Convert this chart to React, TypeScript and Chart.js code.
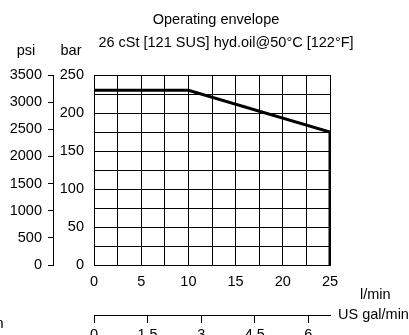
import React, { useEffect, useRef } from "react";
import { Chart, registerables } from "chart.js";

Chart.register(...registerables);

// ---- data ----
const flowLpm = [0, 10, 25, 25];
const pressureBar = [230, 230, 175, 0];

// ---- axes ----
const lpmRange = [0, 25];
const barRange = [0, 250];
const psiRange = [0, 3500];
const galRange = [0, 25 / 3.785411784];
const lpmGridStep = 2.5;
const lpmLabelStep = 5;
const barGridStep = 25;
const barLabelStep = 50;
const psiStep = 500;
const galStep = 1.5;

// ---- text ----
const titleText = "Operating envelope";
const subtitleText = "26 cSt [121 SUS] hyd.oil@50°C [122°F]";
const psiLabel = "psi";
const barLabel = "bar";
const lpmLabel = "l/min";
const galLabel = "US gal/min";
const cutLabel = "n";

const FONT = "'Liberation Sans', Arial, Helvetica, sans-serif";
const FS = 14.5;

const annotPlugin = {
  id: "annot",
  afterDraw(chart: any) {
    const ctx = chart.ctx;
    const ca = chart.chartArea;
    const sx = chart.scales.x;
    const sg = chart.scales.gal;
    const sy = chart.scales.y;
    const sp = chart.scales.psi;
    ctx.save();
    ctx.fillStyle = "#000";
    ctx.font = `${FS}px ${FONT}`;
    ctx.textAlign = "center";
    ctx.textBaseline = "alphabetic";
    ctx.fillText(titleText, ca.left + 122, 24);
    ctx.fillText(subtitleText, ca.left + 132, 47);
    ctx.fillText(psiLabel, sp.left + 26, 55);
    ctx.fillText(barLabel, sy.left + 18, 55);
    ctx.textAlign = "left";
    ctx.textBaseline = "middle";
    ctx.fillText(lpmLabel, ca.right + 30, sx.top + 30);
    ctx.fillText(galLabel, ca.right + 8, sg.top);
    ctx.textAlign = "right";
    ctx.textBaseline = "alphabetic";
    ctx.fillText(cutLabel, 3.5, 328);
    ctx.restore();
  },
};

export default function App() {
  const ref = useRef<HTMLCanvasElement>(null);
  useEffect(() => {
    document.body.style.margin = "0";
    Chart.defaults.font.family = FONT;
    Chart.defaults.font.size = FS;
    Chart.defaults.color = "#000";
    const chart = new Chart(ref.current as HTMLCanvasElement, {
      type: "line",
      data: {
        datasets: [
          {
            data: flowLpm.map((x, i) => ({ x, y: pressureBar[i] })),
            borderColor: "#000",
            borderWidth: 3,
            pointRadius: 0,
            fill: false,
            tension: 0,
            xAxisID: "x",
            yAxisID: "y",
          },
        ],
      },
      options: {
        responsive: false,
        animation: false,
        events: [],
        layout: { padding: { top: 75, right: 79, bottom: 0, left: 0 } },
        plugins: { legend: { display: false }, tooltip: { enabled: false } },
        scales: {
          x: {
            type: "linear",
            position: "bottom",
            min: lpmRange[0],
            max: lpmRange[1],
            afterFit: (s: any) => {
              s.height = 50;
            },
            ticks: {
              stepSize: lpmGridStep,
              autoSkip: false,
              maxRotation: 0,
              padding: 8,
              color: "#000",
              callback: (v: any) => (Number(v) % lpmLabelStep === 0 ? String(v) : ""),
            },
            grid: { color: "#000", lineWidth: 1, drawTicks: false },
            border: { color: "#000", width: 1 },
          },
          gal: {
            type: "linear",
            position: "bottom",
            min: galRange[0],
            max: galRange[1],
            afterFit: (s: any) => {
              s.height = 20;
            },
            ticks: {
              stepSize: galStep,
              includeBounds: false,
              autoSkip: false,
              maxRotation: 0,
              padding: 3,
              color: "#000",
              callback: (v: any) => String(v),
            },
            grid: { drawOnChartArea: false, drawTicks: true, tickLength: 8, color: "#000" },
            border: { color: "#000", width: 1 },
          },
          y: {
            type: "linear",
            position: "left",
            min: barRange[0],
            max: barRange[1],
            afterFit: (s: any) => {
              s.width = 41;
            },
            ticks: {
              stepSize: barGridStep,
              autoSkip: false,
              padding: 10,
              color: "#000",
              callback: (v: any) => (Number(v) % barLabelStep === 0 ? String(v) : ""),
            },
            grid: { color: "#000", lineWidth: 1, drawTicks: false },
            border: { color: "#000", width: 1 },
          },
          psi: {
            type: "linear",
            position: "left",
            min: psiRange[0],
            max: psiRange[1],
            afterFit: (s: any) => {
              s.width = 53;
            },
            ticks: {
              stepSize: psiStep,
              autoSkip: false,
              padding: 6,
              color: "#000",
              callback: (v: any) => String(v),
            },
            grid: { drawOnChartArea: false, drawTicks: true, tickLength: 5, color: "#000" },
            border: { color: "#000", width: 1 },
          },
        },
      },
      plugins: [annotPlugin],
    } as any);
    return () => chart.destroy();
  }, []);
  return (
    <div style={{ position: "absolute", left: 0, top: 0, width: 409, height: 335 }}>
      <canvas ref={ref} width={409} height={335} style={{ display: "block", width: 409, height: 335 }} />
    </div>
  );
}
